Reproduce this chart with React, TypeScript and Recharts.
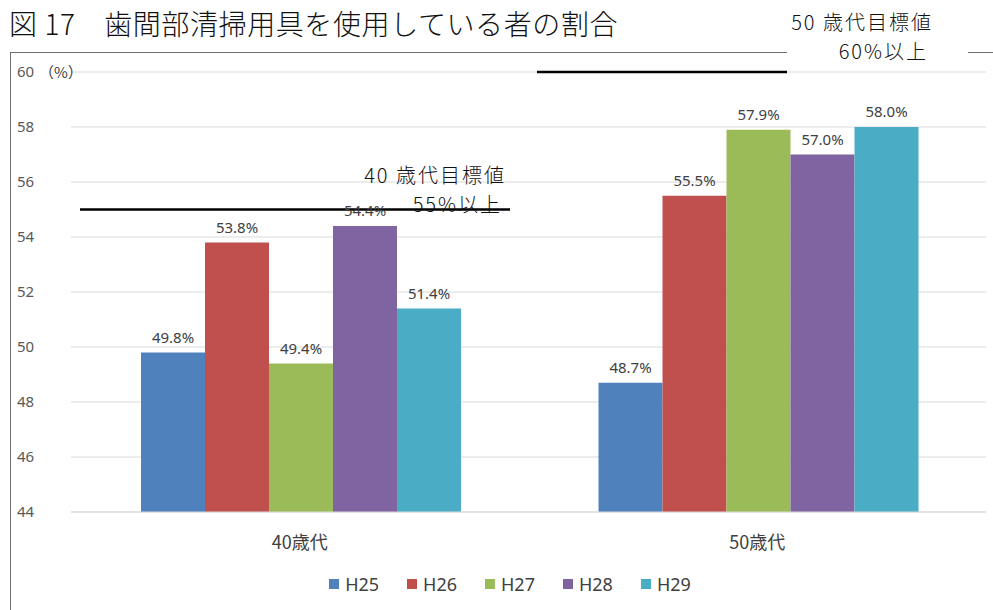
import React from 'react';
import { BarChart, Bar, XAxis, YAxis, CartesianGrid, LabelList, ReferenceLine } from 'recharts';

const categories = ['40歳代', '50歳代'];
const seriesNames = ['H25', 'H26', 'H27', 'H28', 'H29'];
const h25 = [49.8, 48.7];
const h26 = [53.8, 55.5];
const h27 = [49.4, 57.9];
const h28 = [54.4, 57.0];
const h29 = [51.4, 58.0];
const yTicks = [44, 46, 48, 50, 52, 54, 56, 58, 60];
const target40 = 55;
const target50 = 60;
const title = '図 17　歯間部清掃用具を使用している者の割合';

const colors = ['#4F81BD', '#C0504D', '#9BBB59', '#8064A2', '#4BACC6'];
const seriesValues = [h25, h26, h27, h28, h29];

const data = categories.map((c, i) => {
  const row: any = { name: c };
  seriesNames.forEach((s, k) => { row[s] = seriesValues[k][i]; });
  return row;
});

const FONT = '"Noto Sans", "Noto Sans CJK JP", sans-serif';
const JFONT = '"Noto Sans CJK JP", sans-serif';

const YTick = (props: any) => {
  const { y, payload } = props;
  return (
    <text x={17} y={y} dy="0.35em" textAnchor="start" fontSize={15} fill="#595959" fontFamily={FONT}>
      {`${payload.value}`}
    </text>
  );
};

const XTick = (props: any) => {
  const { x, y, payload } = props;
  return (
    <text x={x} y={y} dy={29} textAnchor="middle" fontSize={18} fill="#404040" fontFamily={JFONT}>
      {payload.value}
    </text>
  );
};

export default function App() {
  return (
    <div style={{ position: 'fixed', left: 0, top: 0, width: 993, height: 610, background: '#fff', overflow: 'hidden' }}>
      <div style={{ position: 'absolute', left: 10, top: 52, width: 1000, height: 600, borderLeft: '1.5px solid #6f6f6f', borderTop: '1.5px solid #6f6f6f' }} />
      <div style={{ position: 'absolute', left: 9, top: 3, fontFamily: JFONT, fontWeight: 300, fontSize: 28, color: '#111', whiteSpace: 'nowrap', letterSpacing: 0.6 }}>
        {title}
      </div>
      <div style={{ position: 'absolute', left: 0, top: 0 }}>
        <BarChart
          width={993}
          height={610}
          data={data}
          margin={{ top: 72, right: 7, bottom: 68, left: 31 }}
          barCategoryGap="15.3%"
          barGap={0}
        >
          <CartesianGrid vertical={false} stroke="#d9d9d9" />
          <XAxis dataKey="name" height={30} tick={<XTick />} tickLine={false} axisLine={{ stroke: '#d9d9d9' }} />
          <YAxis
            domain={[44, 60]}
            ticks={yTicks}
            width={40}
            tick={<YTick />}
            tickLine={false}
            axisLine={false}
          />
          {seriesNames.map((s, i) => (
            <Bar key={s} dataKey={s} fill={colors[i]} isAnimationActive={false}>
              <LabelList
                dataKey={s}
                position="top"
                offset={10}
                fontSize={15}
                fill="#404040"
                fontFamily={FONT}
                formatter={(v: any) => `${Number(v).toFixed(1)}%`}
              />
            </Bar>
          ))}
          <ReferenceLine
            y={target40}
            ifOverflow="visible"
            shape={(p: any) => <line x1={80} x2={510} y1={p.y1} y2={p.y1} stroke="#000" strokeWidth={2.5} />}
          />
          <ReferenceLine
            y={target50}
            ifOverflow="visible"
            shape={(p: any) => <line x1={537} x2={787} y1={p.y1} y2={p.y1} stroke="#000" strokeWidth={2.5} />}
          />
        </BarChart>
      </div>
      <div style={{ position: 'absolute', left: 39, top: 61, fontFamily: JFONT, fontSize: 15, color: '#404040', whiteSpace: 'nowrap' }}>（%）</div>
      <div style={{ position: 'absolute', left: 0, top: 572, width: 1020, display: 'flex', justifyContent: 'center', gap: 28, fontFamily: FONT, fontSize: 18, color: '#404040' }}>
        {seriesNames.map((s, i) => (
          <div key={s} style={{ display: 'flex', alignItems: 'center' }}>
            <span style={{ display: 'inline-block', width: 10, height: 10, background: colors[i], marginRight: 6 }} />
            <span>{s}</span>
          </div>
        ))}
      </div>
      <div style={{ position: 'absolute', left: 300, top: 160, width: 206, fontFamily: JFONT, fontWeight: 300, fontSize: 20, letterSpacing: 2, color: '#111', textAlign: 'right', lineHeight: '29px' }}>
        <div>40 歳代目標値</div>
        <div style={{ paddingRight: 4 }}>55%以上</div>
      </div>
      <div style={{ position: 'absolute', left: 787, top: 7, width: 181, height: 59, background: '#fff', fontFamily: JFONT, fontWeight: 300, fontSize: 20, letterSpacing: 2, color: '#111', lineHeight: '29px' }}>
        <div style={{ position: 'absolute', right: 35, top: 0, whiteSpace: 'nowrap' }}>50 歳代目標値</div>
        <div style={{ position: 'absolute', right: 40, top: 29, whiteSpace: 'nowrap' }}>60%以上</div>
      </div>
    </div>
  );
}
